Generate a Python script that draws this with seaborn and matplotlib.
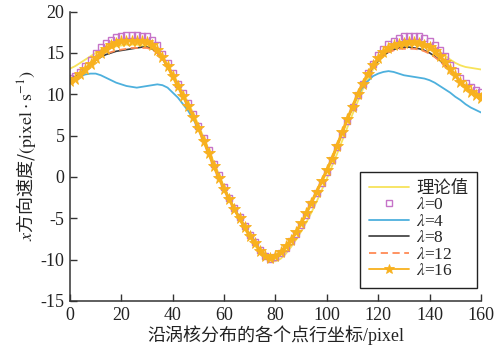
import numpy as np
import pandas as pd
import matplotlib
matplotlib.use("Agg")
import matplotlib.pyplot as plt
import seaborn as sns

# ---------------- data ----------------
x_pos = list(range(0, 161, 2))

theory = [13.1, 13.4, 13.8, 14.2, 14.6, 15.0, 15.3, 15.5, 15.7, 15.8,
          15.9, 16.0, 16.0, 16.0, 15.9, 15.8, 15.5, 15.0, 14.4, 13.5,
          12.5, 11.4, 10.2, 9.0, 7.7, 6.3, 4.8, 3.3, 1.8, 0.3,
          -1.2, -2.6, -3.9, -5.1, -6.3, -7.3, -8.3, -9.1, -9.7, -10.1,
          -10.2, -9.9, -9.3, -8.5, -7.6, -6.6, -5.5, -4.3, -3.0, -1.6,
          -0.2, 1.3, 2.8, 4.4, 6.0, 7.6, 9.1, 10.6, 11.9, 13.0,
          13.9, 14.6, 15.2, 15.6, 15.8, 16.0, 16.0, 16.0, 15.9, 15.8,
          15.6, 15.4, 15.1, 14.7, 14.2, 13.8, 13.5, 13.3, 13.2, 13.1,
          13.0]

lam0 = [12.0, 12.2, 12.7, 13.4, 14.2, 15.0, 15.7, 16.2, 16.6, 16.9,
        17.1, 17.2, 17.2, 17.2, 17.1, 17.0, 16.6, 15.9, 14.9, 13.8,
        12.6, 11.3, 10.1, 8.9, 7.6, 6.2, 4.7, 3.2, 1.6, 0.2,
        -1.2, -2.5, -3.7, -4.8, -5.9, -7.0, -7.9, -8.8, -9.5, -9.9,
        -9.7, -9.2, -8.6, -7.8, -6.9, -5.8, -4.6, -3.3, -2.0, -0.7,
        0.6, 2.0, 3.6, 5.2, 6.8, 8.4, 9.9, 11.3, 12.6, 13.7,
        14.7, 15.5, 16.1, 16.5, 16.8, 17.0, 17.1, 17.1, 17.0, 16.8,
        16.5, 16.0, 15.4, 14.6, 13.6, 12.8, 12.0, 11.4, 10.9, 10.5,
        10.3]

lam4 = [11.6, 11.9, 12.2, 12.4, 12.5, 12.5, 12.3, 12.0, 11.7, 11.4,
        11.2, 11.0, 10.9, 10.8, 10.9, 11.0, 11.1, 11.2, 11.1, 10.8,
        10.2, 9.6, 8.8, 8.0, 7.0, 5.8, 4.4, 2.9, 1.3, 0.0,
        -1.4, -2.6, -3.8, -4.9, -6.0, -7.0, -7.9, -8.8, -9.4, -9.8,
        -9.6, -9.1, -8.4, -7.6, -6.7, -5.6, -4.4, -3.1, -1.8, -0.5,
        0.8, 2.2, 3.8, 5.4, 7.0, 8.4, 9.8, 10.9, 11.6, 12.2,
        12.5, 12.7, 12.8, 12.7, 12.5, 12.3, 12.2, 12.1, 12.0, 11.9,
        11.7, 11.4, 11.0, 10.6, 10.2, 9.7, 9.3, 8.8, 8.4, 8.1,
        7.8]

lam8 = [11.8, 12.1, 12.6, 13.1, 13.6, 14.1, 14.5, 14.8, 15.0, 15.2,
        15.3, 15.4, 15.5, 15.6, 15.7, 15.7, 15.5, 15.0, 14.3, 13.3,
        12.2, 11.0, 9.8, 8.6, 7.3, 5.9, 4.4, 2.9, 1.3, -0.1,
        -1.5, -2.7, -3.9, -5.0, -6.1, -7.1, -8.0, -8.9, -9.5, -9.8,
        -9.6, -9.1, -8.4, -7.6, -6.7, -5.6, -4.4, -3.1, -1.8, -0.5,
        0.8, 2.2, 3.8, 5.4, 7.0, 8.5, 10.0, 11.3, 12.4, 13.3,
        14.1, 14.7, 15.1, 15.4, 15.6, 15.7, 15.7, 15.6, 15.5, 15.3,
        15.0, 14.6, 14.1, 13.5, 12.9, 12.2, 11.5, 10.9, 10.4, 10.0,
        9.8]

lam12 = [11.7, 12.0, 12.5, 13.1, 13.7, 14.2, 14.6, 14.9, 15.1, 15.3,
         15.4, 15.5, 15.6, 15.6, 15.6, 15.6, 15.4, 15.0, 14.3, 13.3,
         12.2, 11.0, 9.8, 8.6, 7.3, 5.9, 4.4, 2.9, 1.3, -0.1,
         -1.5, -2.7, -3.9, -5.0, -6.1, -7.1, -8.0, -8.9, -9.5, -9.8,
         -9.6, -9.1, -8.4, -7.6, -6.7, -5.6, -4.4, -3.1, -1.8, -0.5,
         0.8, 2.2, 3.8, 5.4, 7.0, 8.5, 10.0, 11.3, 12.4, 13.3,
         14.1, 14.7, 15.1, 15.3, 15.5, 15.5, 15.5, 15.5, 15.4, 15.2,
         14.9, 14.5, 14.0, 13.4, 12.8, 12.1, 11.4, 10.8, 10.3, 9.9,
         9.7]

lam16 = [11.6, 11.9, 12.4, 13.0, 13.7, 14.4, 15.0, 15.5, 15.9, 16.2,
         16.4, 16.5, 16.5, 16.5, 16.4, 16.3, 16.0, 15.4, 14.5, 13.4,
         12.2, 11.0, 9.8, 8.6, 7.3, 5.9, 4.4, 2.9, 1.3, -0.1,
         -1.5, -2.7, -3.9, -5.0, -6.1, -7.1, -8.0, -8.9, -9.5, -9.8,
         -9.6, -9.1, -8.4, -7.6, -6.7, -5.6, -4.4, -3.1, -1.8, -0.5,
         0.8, 2.2, 3.8, 5.4, 7.0, 8.5, 10.0, 11.3, 12.5, 13.5,
         14.4, 15.1, 15.6, 15.9, 16.1, 16.2, 16.3, 16.3, 16.2, 16.0,
         15.7, 15.2, 14.6, 13.9, 13.1, 12.3, 11.5, 10.9, 10.3, 9.9,
         9.6]

labels = ["理论值", r"$\lambda$=0", r"$\lambda$=4", r"$\lambda$=8",
          r"$\lambda$=12", r"$\lambda$=16"]
x_ticks = [0, 20, 40, 60, 80, 100, 120, 140, 160]
y_ticks = [-15, -10, -5, 0, 5, 10, 15, 20]

df = pd.DataFrame({"x": x_pos, "theory": theory, "lam0": lam0, "lam4": lam4,
                   "lam8": lam8, "lam12": lam12, "lam16": lam16})

# ---------------- style ----------------
sns.set_theme(style="ticks")
plt.rcParams["font.family"] = ["Liberation Serif", "Noto Sans CJK SC", "DejaVu Sans"]
plt.rcParams["mathtext.fontset"] = "stix"
plt.rcParams["axes.unicode_minus"] = False

fig = plt.figure(figsize=(5.01, 3.51), dpi=100)
ax = fig.add_axes([0.1397, 0.1425, 0.8203, 0.8245])

c_theory = "#F7E35A"
c_lam0 = "#C673C8"
c_lam4 = "#4DB0DD"
c_lam8 = "#3A3A3A"
c_lam12 = "#FF8A55"
c_lam16 = "#F8B11E"

sns.lineplot(data=df, x="x", y="theory", ax=ax, color=c_theory, lw=1.3,
             label=labels[0], errorbar=None)
sns.lineplot(data=df, x="x", y="lam0", ax=ax, color=c_lam0, linestyle="none",
             marker="s", markersize=5, markerfacecolor="none",
             markeredgecolor=c_lam0, markeredgewidth=1.0,
             label=labels[1], errorbar=None)
sns.lineplot(data=df, x="x", y="lam4", ax=ax, color=c_lam4, lw=1.3,
             label=labels[2], errorbar=None)
sns.lineplot(data=df, x="x", y="lam8", ax=ax, color=c_lam8, lw=1.2,
             label=labels[3], errorbar=None)
sns.lineplot(data=df, x="x", y="lam12", ax=ax, color=c_lam12, lw=1.3,
             linestyle=(0, (4, 2.5)), label=labels[4], errorbar=None)
sns.lineplot(data=df, x="x", y="lam16", ax=ax, color=c_lam16, lw=2.2,
             marker="*", markersize=8.5, markeredgewidth=0.6,
             markeredgecolor=c_lam16, label=labels[5], errorbar=None)

ax.set_xlim(0, 160)
ax.set_ylim(-15, 20)
ax.set_xticks(x_ticks)
ax.set_yticks(y_ticks)
ax.set_xticklabels([str(v) for v in x_ticks])
ax.set_yticklabels([str(v) for v in y_ticks])

sns.despine(ax=ax)
for s in ["left", "bottom"]:
    ax.spines[s].set_color("#333333")
    ax.spines[s].set_linewidth(1.1)
ax.tick_params(direction="in", length=5, width=1.0, colors="#333333",
               labelsize=13, labelcolor="#222222", pad=4)

ax.set_xlabel("沿涡核分布的各个点行坐标/pixel", fontsize=13, color="#222222",
              labelpad=1)
ax.set_ylabel(r"$x$方向速度/$(\mathrm{pixel}\cdot\mathrm{s}^{-1})$", fontsize=13,
              color="#222222", labelpad=2, family="Noto Sans CJK SC")

leg = ax.legend(loc="lower right", bbox_to_anchor=(0.99, 0.045),
                borderaxespad=0, fontsize=12.5, frameon=True, fancybox=False,
                edgecolor="#222222", framealpha=1, labelspacing=0.02,
                handlelength=2.3, handletextpad=0.4, borderpad=0.5)
leg.get_frame().set_linewidth(1.0)
for h in leg.legend_handles:
    if h.get_marker() == "*":
        h.set_markersize(7)
        h.set_linewidth(1.3)
    elif h.get_marker() == "s":
        h.set_markersize(4.5)

fig.savefig("out.png", dpi=100)
